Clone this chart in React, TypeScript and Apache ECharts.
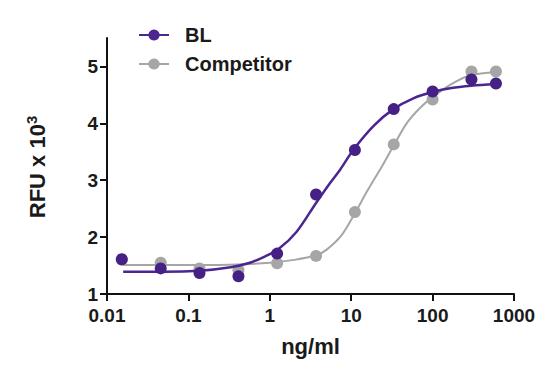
import React, { useEffect, useRef } from "react";
import * as echarts from "echarts";

// Measured points (ng/ml, RFU x 10^3)
const concentrations = [0.0152, 0.0457, 0.137, 0.412, 1.23, 3.7, 11.1, 33.3, 100, 300, 600];
const blValues = [1.61, 1.45, 1.37, 1.31, 1.71, 2.75, 3.53, 4.25, 4.56, 4.77, 4.7];
const competitorValues = [1.6, 1.55, 1.45, 1.42, 1.54, 1.67, 2.44, 3.63, 4.42, 4.91, 4.91];

// Fitted curves
const blFitX = [0.0158, 0.05, 0.14, 0.33, 0.57, 0.84, 1.28, 2.15, 3.7, 5.5, 7.35, 10.7, 19, 33, 58, 100, 170, 300, 600];
const blFit = [1.39, 1.39, 1.41, 1.47, 1.55, 1.65, 1.79, 2.1, 2.6, 2.95, 3.19, 3.54, 3.96, 4.25, 4.44, 4.55, 4.62, 4.66, 4.69];
const competitorFitX = [0.0158, 0.05, 0.14, 0.4, 1, 2, 3.7, 5, 7.5, 11.1, 15.6, 24, 33, 48, 70, 100, 170, 300, 600];
const competitorFit = [1.51, 1.51, 1.51, 1.52, 1.55, 1.6, 1.68, 1.78, 2.02, 2.42, 2.8, 3.25, 3.6, 4.0, 4.27, 4.46, 4.69, 4.85, 4.9];

const yTicks = [1, 2, 3, 4, 5];
const seriesNames = ["BL", "Competitor"];

const PURPLE = "#4b2590";
const PURPLE_DOT = "#452085";
const GREY = "#a6a6a6";
const FONT = "'Liberation Sans', Arial, Helvetica, sans-serif";

const pair = (xs: number[], ys: number[]) => xs.map((x, i) => [x, ys[i]]);

export default function App() {
  const ref = useRef<HTMLDivElement>(null);

  useEffect(() => {
    if (!ref.current) return;
    const chart = echarts.init(ref.current, undefined, { renderer: "svg" });
    chart.setOption({
      animation: false,
      backgroundColor: "#ffffff",
      textStyle: { fontFamily: FONT },
      grid: { left: 107, right: 45, top: 38, bottom: 96, containLabel: false },
      legend: {
        data: seriesNames,
        orient: "vertical",
        left: 133,
        top: 19,
        itemWidth: 30,
        itemHeight: 14,
        itemGap: 7,
        textStyle: {
          fontFamily: FONT,
          fontSize: 20,
          fontWeight: "bold",
          color: "#1a1a1a",
          lineHeight: 22,
          padding: [0, 0, 0, 11],
        },
      },
      graphic: [
        {
          type: "text",
          x: 37,
          y: 167,
          rotation: Math.PI / 2,
          style: {
            text: "RFU x 10{sup|3}",
            fontFamily: FONT,
            fontSize: 22,
            fontWeight: "bold",
            fill: "#1a1a1a",
            textAlign: "center",
            textVerticalAlign: "middle",
            rich: {
              sup: {
                fontFamily: FONT,
                fontSize: 15,
                fontWeight: "bold",
                fill: "#1a1a1a",
                verticalAlign: "top",
                lineHeight: 26,
              },
            },
          },
        },
      ],
      xAxis: {
        type: "log",
        logBase: 10,
        min: 0.01,
        max: 1000,
        name: "ng/ml",
        nameLocation: "middle",
        nameGap: 41,
        nameTextStyle: { fontFamily: FONT, fontSize: 22, fontWeight: "bold", color: "#1a1a1a" },
        axisLine: { lineStyle: { color: "#111", width: 2 } },
        axisTick: { show: true, inside: false, length: 7, lineStyle: { color: "#111", width: 2 } },
        minorTick: { show: false },
        splitLine: { show: false },
        axisLabel: {
          fontFamily: FONT,
          fontSize: 19,
          fontWeight: "bold",
          color: "#1a1a1a",
          margin: 12,
          formatter: (v: number) => String(Number(v.toPrecision(3))),
        },
      },
      yAxis: {
        type: "value",
        min: 1,
        max: 5.5,
        interval: 1,
        axisLine: { show: true, lineStyle: { color: "#111", width: 2 } },
        axisTick: {
          show: true,
          inside: false,
          length: 7,
          customValues: yTicks,
          lineStyle: { color: "#111", width: 2 },
        },
        splitLine: { show: false },
        axisLabel: {
          fontFamily: FONT,
          fontSize: 19,
          fontWeight: "bold",
          color: "#1a1a1a",
          margin: 9,
          customValues: yTicks,
        },
      },
      series: [
        {
          name: "Competitor",
          type: "line",
          data: pair(competitorFitX, competitorFit),
          smooth: 0.3,
          showSymbol: false,
          symbol: "circle",
          symbolSize: 11,
          itemStyle: { color: GREY },
          lineStyle: { color: GREY, width: 2 },
          z: 2,
        },
        {
          name: "Competitor points",
          type: "scatter",
          data: pair(concentrations, competitorValues),
          symbol: "circle",
          symbolSize: 12,
          itemStyle: { color: GREY, opacity: 1 },
          z: 3,
        },
        {
          name: "BL",
          type: "line",
          data: pair(blFitX, blFit),
          smooth: 0.3,
          showSymbol: false,
          symbol: "circle",
          symbolSize: 11,
          itemStyle: { color: PURPLE },
          lineStyle: { color: PURPLE, width: 2.5 },
          z: 4,
        },
        {
          name: "BL points",
          type: "scatter",
          data: pair(concentrations, blValues),
          symbol: "circle",
          symbolSize: 12,
          itemStyle: { color: PURPLE_DOT, opacity: 1 },
          z: 5,
        },
      ],
    });
    return () => chart.dispose();
  }, []);

  return (
    <div
      ref={ref}
      style={{ position: "fixed", left: 0, top: 0, width: 559, height: 390, background: "#fff" }}
    />
  );
}
